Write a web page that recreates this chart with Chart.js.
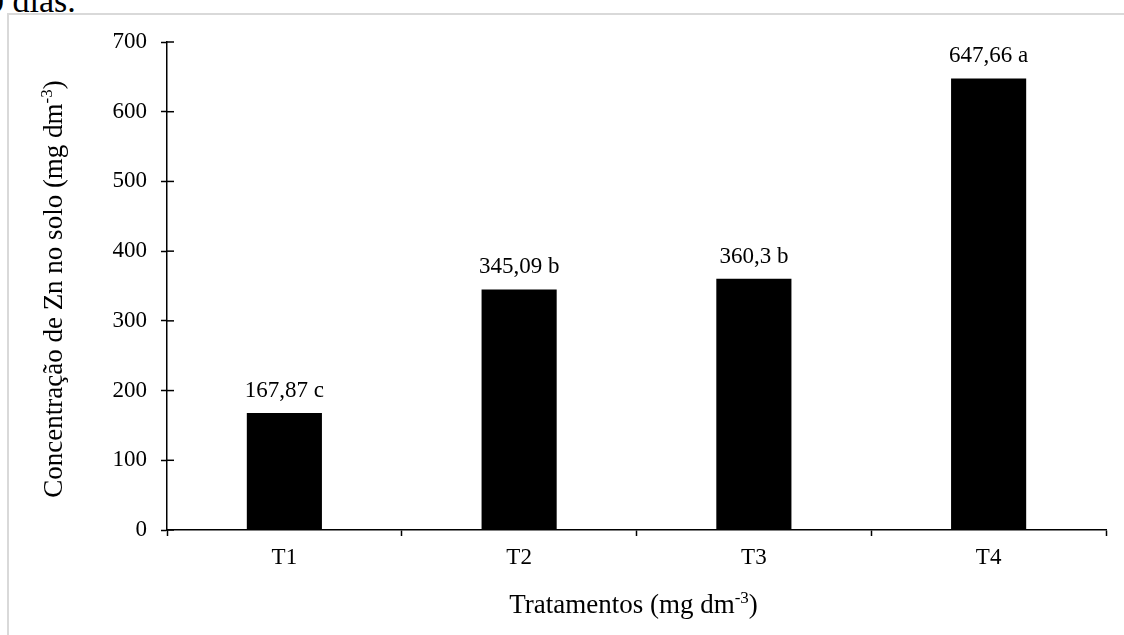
<!DOCTYPE html>
<html>
<head>
<meta charset="utf-8">
<script src="https://cdn.jsdelivr.net/npm/chart.js@4.4.1/dist/chart.umd.min.js"></script>
<style>
  body { margin: 0; background: #fff; overflow: hidden; }
  #wrap { position: relative; width: 1124px; height: 635px; }
  #frame { position: absolute; left: 7px; top: 13px; width: 1200px; height: 700px; border: 2px solid #d9d9d9; box-sizing: border-box; }
  #caption { position: absolute; left: -13px; top: -16px; font: 34px "Liberation Serif", serif; color: #000; white-space: nowrap; line-height: 34px; }
  canvas { position: absolute; left: 0; top: 0; }
</style>
</head>
<body>
<div id="wrap">
  <div id="caption">0 dias.</div>
  <div id="frame"></div>
  <canvas id="zn" width="1124" height="635"></canvas>
</div>
<script>
const categories = ["T1", "T2", "T3", "T4"];
const zincValues = [167.87, 345.09, 360.3, 647.66];
const letters = ["c", "b", "b", "a"];
const yMax = 700;
const yStep = 100;

const serif = "Liberation Serif";

// etiquetas em cima das barras
const barLabels = {
  id: "barLabels",
  afterDatasetsDraw(chart) {
    const ctx = chart.ctx;
    const meta = chart.getDatasetMeta(0);
    ctx.save();
    ctx.font = "23px " + serif;
    ctx.fillStyle = "#000";
    ctx.textAlign = "center";
    ctx.textBaseline = "alphabetic";
    meta.data.forEach((bar, i) => {
      const txt = String(zincValues[i]).replace(".", ",") + " " + letters[i];
      ctx.fillText(txt, bar.x, bar.y - 16);
    });
    ctx.restore();
  },
};

// marcas do eixo y cruzando o eixo (parte de dentro)
const innerTicks = {
  id: "innerTicks",
  afterDraw(chart) {
    const ctx = chart.ctx;
    const y = chart.scales.y;
    ctx.save();
    ctx.strokeStyle = "#000";
    ctx.lineWidth = 1.5;
    y.ticks.forEach((t, i) => {
      const py = y.getPixelForTick(i);
      ctx.beginPath();
      ctx.moveTo(y.right, py);
      ctx.lineTo(y.right + 7, py);
      ctx.stroke();
    });
    ctx.restore();
  },
};

// titulo com expoente
function drawSupTitle(ctx, main, sup, tail, cx, baseY) {
  ctx.font = "27px " + serif;
  const w1 = ctx.measureText(main).width;
  const w3 = ctx.measureText(tail).width;
  ctx.font = "17px " + serif;
  const w2 = ctx.measureText(sup).width;
  let x = cx - (w1 + w2 + w3) / 2;
  ctx.textAlign = "left";
  ctx.textBaseline = "alphabetic";
  ctx.font = "27px " + serif;
  ctx.fillText(main, x, baseY);
  x += w1;
  ctx.font = "17px " + serif;
  ctx.fillText(sup, x, baseY - 10);
  x += w2;
  ctx.font = "27px " + serif;
  ctx.fillText(tail, x, baseY);
}

const axisTitles = {
  id: "axisTitles",
  afterDraw(chart) {
    const ctx = chart.ctx;
    const area = chart.chartArea;
    ctx.save();
    ctx.fillStyle = "#000";
    drawSupTitle(ctx, "Tratamentos (mg dm", "-3", ")", (area.left + area.right) / 2 - 3, 613);
    ctx.translate(62, (area.top + area.bottom) / 2 + 3);
    ctx.rotate(-Math.PI / 2);
    drawSupTitle(ctx, "Concentração de Zn no solo (mg dm", "-3", ")", 0, 0);
    ctx.restore();
  },
};

new Chart(document.getElementById("zn"), {
  type: "bar",
  data: {
    labels: categories,
    datasets: [
      {
        data: zincValues,
        backgroundColor: "#000",
        borderWidth: 0,
        barPercentage: 0.32,
        categoryPercentage: 1,
      },
    ],
  },
  options: {
    responsive: false,
    animation: false,
    layout: { padding: { left: 0, top: 42, right: 18, bottom: 0 } },
    plugins: {
      legend: { display: false },
      tooltip: { enabled: false },
    },
    scales: {
      x: {
        afterFit: (scale) => { scale.height = 105; },
        border: { color: "#000", width: 1.5 },
        grid: {
          offset: true,
          drawOnChartArea: false,
          drawTicks: true,
          tickLength: 6,
          tickColor: "#000",
          tickWidth: 1.5,
        },
        ticks: { color: "#000", font: { family: serif, size: 23 }, padding: 8 },
      },
      y: {
        min: 0,
        max: yMax,
        afterFit: (scale) => { scale.width = 167; },
        border: { color: "#000", width: 1.5 },
        grid: {
          drawOnChartArea: false,
          drawTicks: true,
          tickLength: 6,
          tickColor: "#000",
          tickWidth: 1.5,
        },
        ticks: {
          stepSize: yStep,
          color: "#000",
          font: { family: serif, size: 23 },
          padding: 14,
        },
      },
    },
  },
  plugins: [barLabels, innerTicks, axisTitles],
});
</script>
</body>
</html>
